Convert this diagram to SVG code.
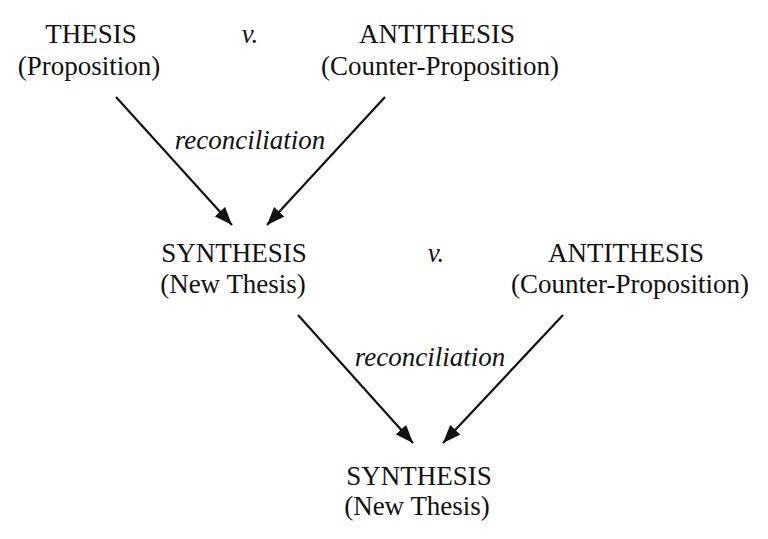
<svg xmlns="http://www.w3.org/2000/svg" width="768" height="539" viewBox="0 0 768 539">
<style>
text{font-family:"Liberation Serif","Times New Roman",serif;font-size:27px;fill:#111;text-anchor:middle}
.i{font-style:italic}
.c{stroke:#111;stroke-width:2.2;fill:none}
</style>
<defs>
<marker id="ah" viewBox="0 0 18 14" refX="18" refY="7" markerWidth="18" markerHeight="14" markerUnits="userSpaceOnUse" orient="auto">
<path d="M0,0 L18,7 L0,14 Z" fill="#111"/>
</marker>
</defs>
<rect width="768" height="539" fill="#fff"/>
<g id="thesis"><text x="91" y="43">THESIS</text><text x="89" y="75">(Proposition)</text></g>
<g id="v1"><text class="i" x="250" y="43">v.</text></g>
<g id="antithesis1"><text x="437" y="43">ANTITHESIS</text><text x="440" y="75">(Counter-Proposition)</text></g>
<g id="synthesis1"><text x="234" y="262">SYNTHESIS</text><text x="233" y="293">(New Thesis)</text></g>
<g id="v2"><text class="i" x="436" y="262">v.</text></g>
<g id="antithesis2"><text x="626" y="262">ANTITHESIS</text><text x="630" y="293">(Counter-Proposition)</text></g>
<g id="synthesis2"><text x="419" y="485">SYNTHESIS</text><text x="417" y="515">(New Thesis)</text></g>
<g id="connectors">
<line class="c" x1="116" y1="97" x2="232" y2="225" marker-end="url(#ah)"/>
<line class="c" x1="385" y1="97" x2="267" y2="225" marker-end="url(#ah)"/>
<line class="c" x1="298" y1="315" x2="413" y2="443" marker-end="url(#ah)"/>
<line class="c" x1="563" y1="315" x2="443" y2="443" marker-end="url(#ah)"/>
<text class="i" x="250" y="149">reconciliation</text>
<text class="i" x="430" y="366">reconciliation</text>
</g>
</svg>
